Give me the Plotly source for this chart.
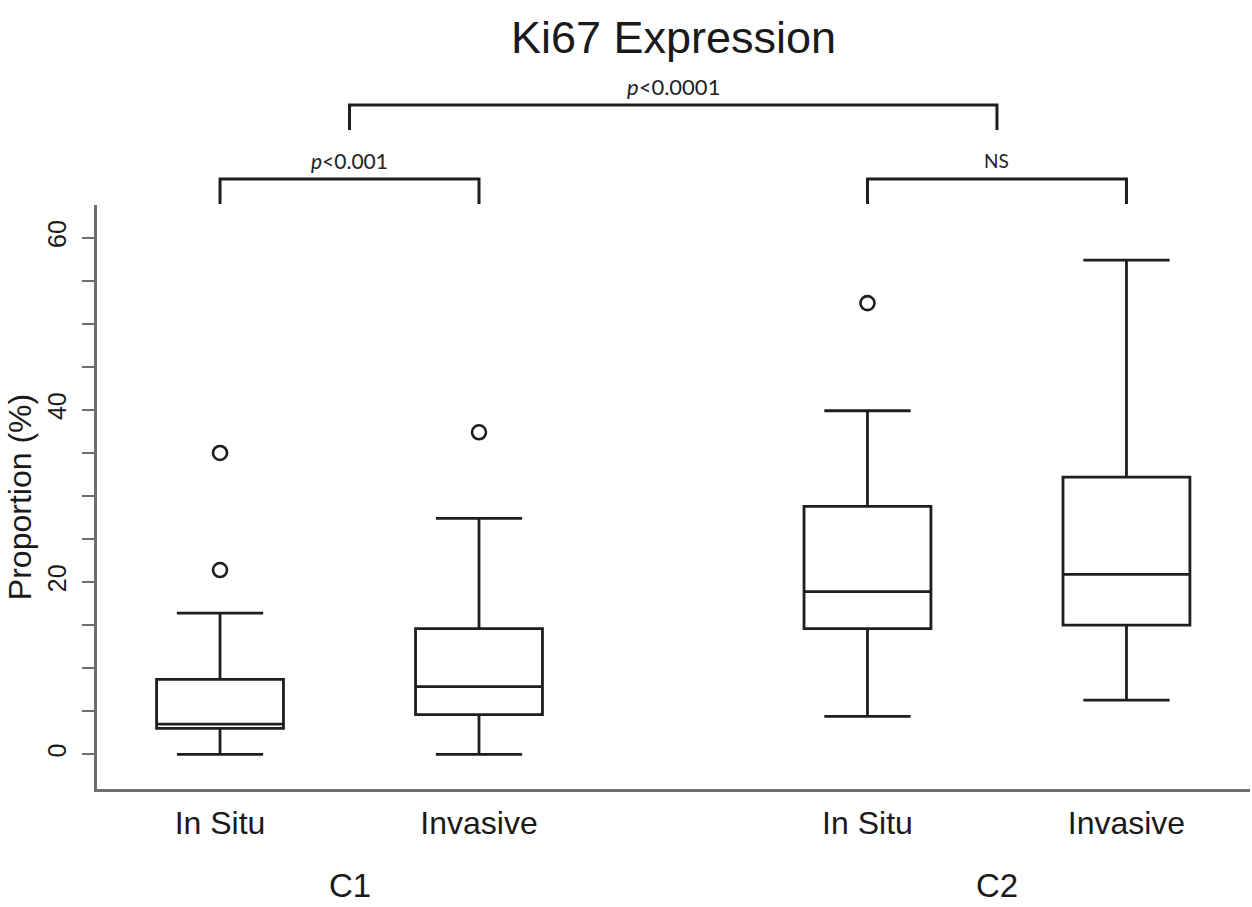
import plotly.graph_objects as go

# ---------------- data ----------------
title_text = "Ki67 Expression"
y_title = "Proportion (%)"
group_labels = ["In Situ", "Invasive", "In Situ", "Invasive"]
cluster_labels = ["C1", "C2"]

lower_whisker = [0.0, 0.0, 4.4, 6.3]
q1_vals = [3.0, 4.6, 14.6, 15.0]
median_vals = [3.5, 7.85, 18.9, 20.9]
q3_vals = [8.7, 14.6, 28.8, 32.2]
upper_whisker = [16.4, 27.4, 39.9, 57.4]
outlier_vals = [[35.0, 21.4], [37.4], [52.4], []]

y_tick_values = [0, 5, 10, 15, 20, 25, 30, 35, 40, 45, 50, 55, 60]
y_tick_labels = ["0", "", "", "", "20", "", "", "", "40", "", "", "", "60"]

# comparisons: (group index a, group index b, label)
comparisons_groups = [(0, 1, "<i>p</i>&lt;0.001"), (2, 3, "NS")]
comparison_clusters = (0, 1, "<i>p</i>&lt;0.0001")

# ---------------- layout constants ----------------
positions = [1.0, 2.0, 3.5, 4.5]
cluster_pos = [(positions[0] + positions[1]) / 2, (positions[2] + positions[3]) / 2]
W, H = 1252, 907
ML, MR, MT, MB = 97, 2, 205, 118
plot_h = H - MT - MB

def py(px):  # pixel row -> paper y
    return (H - MB - px) / plot_h

line_col = "#1e1e1e"
axis_col = "#6e6e6e"
FONT = "Liberation Sans, Arial, sans-serif"

fig = go.Figure()

fig.add_trace(go.Box(
    x=positions, q1=q1_vals, median=median_vals, q3=q3_vals,
    lowerfence=lower_whisker, upperfence=upper_whisker,
    boxpoints=False, width=0.49, whiskerwidth=0.68,
    fillcolor="rgba(255,255,255,0)",
    line=dict(color=line_col, width=2.8),
    showlegend=False, hoverinfo="skip",
))

ox, oy = [], []
for p, vals in zip(positions, outlier_vals):
    for v in vals:
        ox.append(p)
        oy.append(v)
fig.add_trace(go.Scatter(
    x=ox, y=oy, mode="markers",
    marker=dict(symbol="circle-open", size=14, color=line_col, line=dict(width=2.6, color=line_col)),
    showlegend=False, hoverinfo="skip", cliponaxis=False,
))

shapes = []
annotations = []

def bracket(x0, x1, top_px, leg_px, label, label_px, fsize):
    shapes.append(dict(type="path", xref="x", yref="paper",
                       path=f"M {x0},{py(leg_px)} L {x0},{py(top_px)} L {x1},{py(top_px)} L {x1},{py(leg_px)}",
                       line=dict(color=line_col, width=3)))
    annotations.append(dict(x=(x0 + x1) / 2, y=py(label_px), xref="x", yref="paper",
                            text=label, showarrow=False, xanchor="center", yanchor="middle",
                            font=dict(family="Lato, Open Sans, sans-serif", size=fsize, color="#222")))

for a, b, lab in comparisons_groups:
    bracket(positions[a], positions[b], 179, 204, lab, 161, 21 if "p" in lab else 19)
ca, cb, clab = comparison_clusters
bracket(cluster_pos[ca], cluster_pos[cb], 105, 130, clab, 87, 22)

for cp, lab in zip(cluster_pos, cluster_labels):
    annotations.append(dict(x=cp, y=py(885), xref="x", yref="paper", text=lab, showarrow=False,
                            xanchor="center", yanchor="middle",
                            font=dict(family=FONT, size=33, color="#1a1a1a")))

fig.update_layout(
    width=W, height=H,
    margin=dict(l=ML, r=MR, t=MT, b=MB, pad=0),
    paper_bgcolor="white", plot_bgcolor="white",
    title=dict(text=title_text, x=0.5, xref="paper", xanchor="center",
               y=1 - 37 / H, yref="container", yanchor="middle",
               font=dict(family=FONT, size=45, color="#1a1a1a")),
    shapes=shapes, annotations=annotations,
    showlegend=False,
)

fig.update_xaxes(
    range=[0.525, 4.977], tickvals=positions, ticktext=group_labels,
    showline=True, linecolor=axis_col, linewidth=3, ticks="",
    showgrid=False, zeroline=False,
    tickfont=dict(family=FONT, size=32, color="#1a1a1a"),
    ticklabelstandoff=4,
)
fig.update_yaxes(
    range=[-4.03, 63.8], tickvals=y_tick_values, ticktext=y_tick_labels,
    showline=True, linecolor=axis_col, linewidth=3,
    ticks="outside", ticklen=12, tickwidth=2, tickcolor=axis_col,
    tickangle=-90, showgrid=False, zeroline=False,
    tickfont=dict(family=FONT, size=25, color="#1a1a1a"),
    ticklabelstandoff=6,
    title=dict(text=y_title, font=dict(family=FONT, size=32, color="#1a1a1a"), standoff=2),
)

fig.write_html("out.html")
